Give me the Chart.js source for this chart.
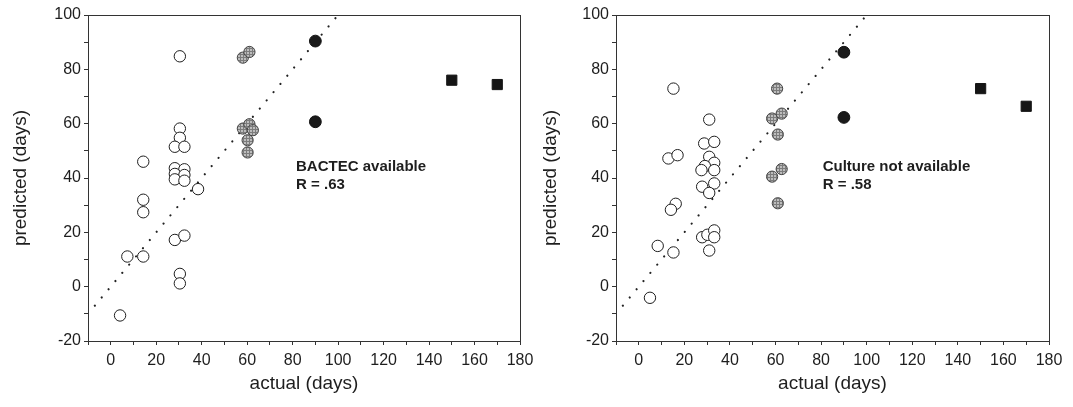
<!DOCTYPE html>
<html><head><meta charset="utf-8">
<script src="https://cdn.jsdelivr.net/npm/chart.js@4"></script>
<style>
html,body{margin:0;padding:0;background:#fff;width:1073px;height:407px;overflow:hidden}
canvas{position:absolute;top:0}
#c1{left:0}
#c2{left:530px}
</style></head><body>
<canvas id="c1" width="540" height="407"></canvas>
<canvas id="c2" width="543" height="407"></canvas>
<script>
// ---- data (x = actual days, y = predicted days) ----
const xTicks = [-10, 180, 10];          // min, max, step
const yTicks = [-20, 100, 10];
const identityLine = [[-7, -7], [100, 100]];

const bactecOpen = [[30.4,84.8],[30.4,58.2],[30.4,54.8],[28.2,51.5],[32.4,51.5],[14.3,46],[28.2,43.6],[32.4,43.2],[28.2,41.5],[32.4,41.1],[28.2,39.5],[32.4,39],[38.4,35.9],[14.3,32],[14.3,27.4],[28.2,17.2],[32.4,18.8],[7.3,11.1],[14.3,11.1],[30.4,4.7],[30.4,1.2],[4.1,-10.6]];
const bactecHatched = [[58.1,84.3],[61,86.4],[58.1,58.2],[61,59.8],[62.5,57.6],[60.2,53.9],[60.2,49.4]];
const bactecDark = [[90,90.4],[90,60.7]];
const bactecSquare = [[150,76],[170,74.4]];
const bactecNote = ['BACTEC available', 'R = .63'];

const cultureOpen = [[15.2,72.9],[30.9,61.5],[28.7,52.7],[33.1,53.3],[13,47.2],[17,48.4],[30.9,47.8],[33.1,45.6],[29,44.4],[27.5,42.9],[33.1,42.9],[33.1,38],[27.8,36.8],[30.9,34.5],[16.2,30.5],[14.1,28.3],[27.8,18.2],[30.1,19.1],[33.1,20.7],[33.1,18.2],[30.9,13.3],[8.3,15],[15.2,12.6],[4.9,-4.1]];
const cultureHatched = [[60.7,72.9],[58.5,61.9],[62.7,63.7],[61,56],[62.7,43.3],[58.5,40.5],[61,30.7]];
const cultureDark = [[90,86.3],[90,62.3]];
const cultureSquare = [[150,72.9],[170,66.4]];
const cultureNote = ['Culture not available', 'R = .58'];

// ---- styling ----
const FONT = '"Liberation Sans", Arial, Helvetica, sans-serif';
const INK = '#1e1e1e';
const toPts = a => a.map(p => ({x: p[0], y: p[1]}));

function hatch() {
  const c = document.createElement('canvas'); c.width = 3; c.height = 3;
  const g = c.getContext('2d');
  g.fillStyle = '#bdbdbd'; g.fillRect(0, 0, 3, 3);
  g.fillStyle = '#7c7c7c'; g.fillRect(0, 0, 3, 1); g.fillRect(0, 0, 1, 3);
  return g.createPattern(c, 'repeat');
}

const framePlugin = {
  id: 'frame',
  afterDraw(chart, args, opts) {
    const {ctx, chartArea: a, scales} = chart;
    ctx.save();
    ctx.strokeStyle = '#333'; ctx.lineWidth = 1;
    ctx.strokeRect(Math.round(a.left) + 0.5, Math.round(a.top) + 0.5, Math.round(a.right - a.left), Math.round(a.bottom - a.top));
    // annotation
    ctx.fillStyle = INK;
    ctx.font = 'bold 15px ' + FONT;
    ctx.textBaseline = 'middle';
    ctx.textAlign = 'left';
    const x = scales.x.getPixelForValue(opts.at[0]);
    opts.lines.forEach((t, i) => {
      const y = scales.y.getPixelForValue(opts.at[1 + i]);
      ctx.fillText(t, x, y);
    });
    ctx.restore();
  }
};

function make(id, open, hatched, dark, square, note, noteAt, axisW, padR) {
  const pat = hatch();
  return new Chart(document.getElementById(id), {
    type: 'scatter',
    data: {
      datasets: [
        {data: toPts(open), pointStyle: 'circle', pointRadius: 5.7, backgroundColor: '#fff', borderColor: INK, borderWidth: 1, order: 1},
        {data: toPts(hatched), pointStyle: 'circle', pointRadius: 5.6, backgroundColor: pat, borderColor: '#444', borderWidth: 1, order: 1},
        {data: toPts(dark), pointStyle: 'circle', pointRadius: 5.9, backgroundColor: '#1a1a1a', borderColor: '#111', borderWidth: 1, order: 1},
        {data: toPts(square), pointStyle: 'rect', pointRadius: 7.2, backgroundColor: '#151515', borderColor: '#151515', borderWidth: 1, order: 1},
        {data: toPts(identityLine), showLine: true, pointRadius: 0, borderColor: '#222', borderWidth: 2.2,
         borderDash: [0.01, 10.7], borderCapStyle: 'round', order: 5}
      ]
    },
    options: {
      responsive: false, animation: false, devicePixelRatio: 1,
      layout: {padding: {left: 0, top: 15, right: padR, bottom: 0}},
      plugins: {legend: {display: false}, tooltip: {enabled: false},
                frame: {lines: note, at: noteAt}},
      scales: {
        x: {
          type: 'linear', min: xTicks[0], max: xTicks[1],
          afterFit: s => { s.height = 66; },
          ticks: {stepSize: xTicks[2], autoSkip: false, maxRotation: 0, padding: 6, color: INK,
                  font: {family: FONT, size: 16},
                  callback: v => (v % 20 === 0 ? String(v) : '')},
          grid: {drawOnChartArea: false, drawTicks: true, tickLength: 4, color: '#333', lineWidth: 1},
          border: {display: true, color: '#333', width: 1},
          title: {display: true, text: 'actual (days)', color: INK, font: {family: FONT, size: 19},
                  padding: {top: 0, bottom: 12}}
        },
        y: {
          type: 'linear', min: yTicks[0], max: yTicks[1],
          afterFit: s => { s.width = axisW; },
          ticks: {stepSize: yTicks[2], autoSkip: false, padding: 3, color: INK,
                  font: {family: FONT, size: 16},
                  callback: v => (v % 20 === 0 ? String(v) : '')},
          grid: {drawOnChartArea: false, drawTicks: true, tickLength: 4, color: '#333', lineWidth: 1},
          border: {display: true, color: '#333', width: 1},
          title: {display: true, text: 'predicted (days)', color: INK, font: {family: FONT, size: 19},
                  padding: {top: 9, bottom: 0}}
        }
      }
    },
    plugins: [framePlugin]
  });
}

make('c1', bactecOpen, bactecHatched, bactecDark, bactecSquare, bactecNote, [81.5, 44.1, 37.4], 88, 20);
make('c2', cultureOpen, cultureHatched, cultureDark, cultureSquare, cultureNote, [80.7, 44, 37.4], 86, 24);
</script>
</body></html>
